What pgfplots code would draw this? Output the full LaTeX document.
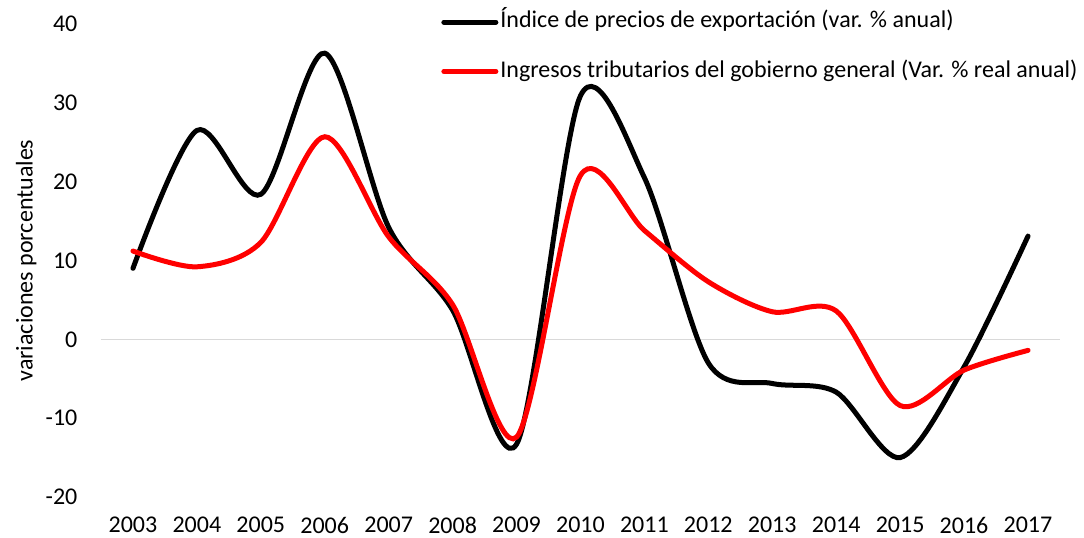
\documentclass[border=0pt]{standalone}
\usepackage{fontspec}
\setmainfont{Carlito}
\usepackage{pgfplots}
\pgfplotsset{compat=1.18}

\begin{document}
\begin{tikzpicture}
\useasboundingbox (-50.5pt,-20pt) rectangle (491.5pt,248.5pt);
\begin{axis}[
  scale only axis, width=479.5pt, height=236.5pt,
  xmin=2002.5, xmax=2017.5, ymin=-20, ymax=40,
  xtick={2003,...,2017}, ytick={-20,-10,...,40},
  /pgf/number format/1000 sep={},
  /pgf/number format/assume math mode=true,
  axis line style={draw=none}, major tick length=0pt,
  tick label style={font=\fontsize{12}{14}\selectfont},
  x tick label style={inner sep=0pt, yshift=-10pt},
  y tick label style={inner sep=0pt, xshift=-11.6pt},
  extra y ticks={0}, extra y tick labels={},
  extra y tick style={grid=major},
  major grid style={color=black!15, line width=0.6pt},
  ylabel={variaciones porcentuales},
  ylabel style={at={(axis description cs:-0.078,0.5)}, anchor=center,
    font=\fontsize{12}{14}\selectfont},
  legend cell align=left,
  legend style={draw=none, fill=none, inner sep=0pt,
    at={(axis description cs:0.3545,0.952)}, anchor=west,
    row sep=11.5pt,
    nodes={inner sep=1pt, text height=8.5pt, text depth=2.7pt,
      font=\fontsize{12}{14}\selectfont}},
  legend image code/.code={\draw[#1] (0pt,0pt) -- (26pt,0pt);},
  every axis plot/.append style={line width=2.5pt, line cap=round, smooth},
  clip=false,
]
\addplot[black] coordinates {
  (2003,9.0)(2004,26.5)(2005,18.4)(2006,36.3)(2007,14.2)(2008,3.7)(2009,-13.3)
  (2010,30.9)(2011,20.5)(2012,-3.0)(2013,-5.6)(2014,-6.7)(2015,-15.0)(2016,-3.5)(2017,13.1)};
\addplot[red] coordinates {
  (2003,11.2)(2004,9.2)(2005,12.3)(2006,25.7)(2007,13.0)(2008,4.4)(2009,-12.4)
  (2010,20.8)(2011,13.8)(2012,7.3)(2013,3.5)(2014,3.6)(2015,-8.4)(2016,-3.9)(2017,-1.4)};
\legend{Índice de precios de exportación (var. \% anual),
  Ingresos tributarios del gobierno general (Var. \% real anual)}
\end{axis}
\end{tikzpicture}
\end{document}
